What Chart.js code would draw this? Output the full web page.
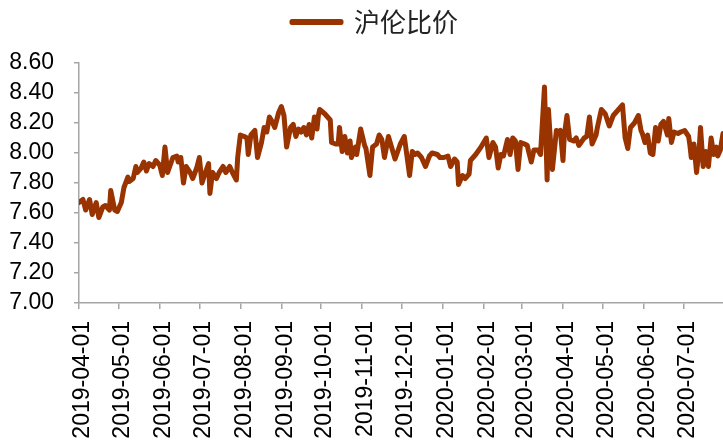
<!DOCTYPE html>
<html>
<head>
<meta charset="utf-8">
<script src="https://cdn.jsdelivr.net/npm/chart.js@4.4.1/dist/chart.umd.min.js"></script>
<style>
  body { margin: 0; background: #fff; }
  #wrap { width: 723px; height: 445px; }
</style>
</head>
<body>
<div id="wrap"><canvas id="ratioChart"></canvas></div>
<script>
// date range and month ticks on the x axis
const startDate = '2019-04-01';
const endDate = '2020-07-31';
const monthTicks = [
  '2019-04-01', '2019-05-01', '2019-06-01', '2019-07-01', '2019-08-01', '2019-09-01',
  '2019-10-01', '2019-11-01', '2019-12-01', '2020-01-01', '2020-02-01', '2020-03-01',
  '2020-04-01', '2020-05-01', '2020-06-01', '2020-07-01'
];

// days since startDate, and the 沪伦比价 value on that day
const dayOffsets = [
  0, 3, 5, 8, 10, 13, 15, 18, 20, 23, 24, 27, 29, 32, 34, 37, 38, 41, 43, 44,
  47, 49, 51, 53, 56, 58, 61, 63, 65, 67,
  71, 74, 75, 77, 79, 81, 84, 86, 89, 91, 93, 96, 98, 99, 101, 104, 106, 109, 111, 114,
  116, 119, 120, 122, 125, 127, 128, 130, 133, 135, 138,
  140, 142, 144, 146, 148, 151, 153, 155, 157, 160, 162, 164, 166, 168, 170, 172, 174, 176, 178, 180,
  181, 182, 186, 190, 191, 194, 196, 197, 199, 201, 203, 205, 206,
  209, 210, 213, 216, 217, 220, 222, 225, 227, 229, 231, 234, 237, 239, 243, 246, 250, 252, 254, 256,
  259, 262, 265, 267, 271, 273, 276,
  279, 281, 284, 286, 287, 290, 292, 295, 296, 300, 304, 308, 310, 313, 315, 317, 319, 321, 324, 326,
  328, 330, 332, 334, 337, 339, 340, 342, 344, 347,
  349, 352, 354, 355, 356, 358, 361, 363, 364, 366, 367, 369, 371, 374, 376, 378, 382, 384, 386, 388,
  391, 392, 395, 398, 401, 404, 407, 411, 413, 415, 417, 420, 423, 425, 426, 428, 430, 432, 434, 436,
  438, 440, 442, 445, 446, 448, 450, 453, 455, 458, 461, 462, 463, 465, 467, 469, 470, 472, 474, 476,
  478, 480, 482, 483, 485, 487
];
const ratio = [
  7.67, 7.69, 7.62, 7.69, 7.59, 7.67, 7.57, 7.64, 7.65, 7.62, 7.75, 7.62, 7.61, 7.67, 7.77, 7.84, 7.81, 7.83, 7.91, 7.87,
  7.90, 7.94, 7.88, 7.93, 7.91, 7.95, 7.92, 7.85, 8.04, 7.87,
  7.97, 7.98, 7.94, 7.97, 7.80, 7.91, 7.87, 7.83, 7.90, 7.97, 7.80, 7.88, 7.93, 7.73, 7.87, 7.83, 7.87, 7.91, 7.87, 7.91,
  7.87, 7.82, 7.97, 8.12, 8.11, 8.10, 7.99, 8.12, 8.15, 7.97, 8.07,
  8.17, 8.14, 8.24, 8.21, 8.17, 8.27, 8.31, 8.25, 8.04, 8.17, 8.19, 8.11, 8.16, 8.14, 8.17, 8.12, 8.19, 8.10, 8.24, 8.16,
  8.25, 8.29, 8.26, 8.22, 8.07, 8.06, 8.06, 8.17, 8.01, 8.11, 8.00, 8.08, 7.97,
  8.04, 7.99, 8.16, 8.05, 8.03, 7.85, 8.04, 8.06, 8.12, 8.09, 7.97, 8.11, 8.02, 7.96, 8.06, 8.11, 7.85, 8.01, 7.99, 8.00,
  7.97, 7.91, 7.98, 8.00, 7.99, 7.97, 7.97,
  7.98, 7.91, 7.96, 7.94, 7.79, 7.85, 7.83, 7.86, 7.95, 7.99, 8.04, 8.10, 7.97, 8.07, 8.04, 7.90, 7.99, 7.98, 8.09, 7.99,
  8.10, 8.08, 7.89, 8.07, 8.06, 8.05, 8.01, 7.94, 8.02, 8.02,
  7.99, 8.44, 7.82, 8.29, 8.15, 7.89, 8.15, 8.14, 8.15, 7.95, 8.12, 8.25, 8.09, 8.08, 8.10, 8.05, 8.10, 8.11, 8.24, 8.06,
  8.12, 8.17, 8.29, 8.26, 8.18, 8.25, 8.28, 8.32, 8.10, 8.03, 8.17, 8.20, 8.25, 8.15, 8.13, 8.07, 8.12, 8.00, 7.99, 8.17,
  8.08, 8.19, 8.21, 8.12, 8.23, 8.07, 8.14, 8.13, 8.14, 8.15, 8.11, 8.05, 7.97, 8.06, 7.87, 8.03, 8.17, 7.91, 8.01, 7.91,
  8.10, 7.99, 8.04, 7.98, 8.02, 8.13
];

function dayNumber(s) {
  return (Date.parse(s) - Date.parse(startDate)) / 86400000;
}

const points = dayOffsets.map((d, i) => ({ x: d, y: ratio[i] }));

// move the legend to where it sits in the original
const legendShift = {
  id: 'legendShift',
  afterLayout(chart) {
    const lg = chart.legend;
    lg.left += 9;
    lg.right += 9;
    lg.top -= 18;
    lg.bottom -= 18;
  }
};

Chart.defaults.font.family = '"Liberation Sans", Arial, sans-serif';
Chart.defaults.color = '#000';

const ctx = document.getElementById('ratioChart').getContext('2d');
const ratioChart = new Chart(ctx, {
  type: 'line',
  data: {
    datasets: [{
      label: '沪伦比价',
      data: points,
      borderColor: '#993300',
      backgroundColor: '#993300',
      borderWidth: 5,
      borderJoinStyle: 'round',
      borderCapStyle: 'round',
      pointRadius: 0,
      tension: 0,
      fill: false
    }]
  },
  options: {
    responsive: true,
    maintainAspectRatio: false,
    animation: false,
    layout: { padding: { top: 18, left: 9, right: 0, bottom: 0 } },
    plugins: {
      tooltip: { enabled: false },
      legend: {
        position: 'top',
        labels: {
          boxWidth: 49,
          boxHeight: 1,
          padding: 9,
          color: '#222',
          font: { family: '"Noto Sans CJK SC", sans-serif', size: 26 }
        }
      }
    },
    scales: {
      x: {
        type: 'linear',
        min: 0,
        max: dayNumber(endDate),
        afterBuildTicks: (scale) => {
          scale.ticks = monthTicks.map(d => ({ value: dayNumber(d) }));
        },
        afterFit: (scale) => { scale.height = 142; },
        grid: { drawOnChartArea: false, drawTicks: true, tickLength: 6, color: '#a6a6a6', lineWidth: 1.5 },
        border: { display: true, color: '#a6a6a6', width: 1.5 },
        ticks: {
          autoSkip: false,
          minRotation: 90,
          maxRotation: 90,
          padding: 12,
          labelOffset: 4,
          font: { size: 23 },
          callback: (value, index) => monthTicks[index]
        }
      },
      y: {
        min: 7,
        max: 8.6,
        afterFit: (scale) => { scale.width = 70; },
        grid: { drawOnChartArea: false, drawTicks: true, tickLength: 5, color: '#a6a6a6', lineWidth: 1.5 },
        border: { display: true, color: '#a6a6a6', width: 1.5 },
        ticks: {
          autoSkip: false,
          stepSize: 0.2,
          padding: 20,
          font: { size: 23 },
          callback: (value) => value.toFixed(2)
        }
      }
    }
  },
  plugins: [legendShift]
});
</script>
</body>
</html>
